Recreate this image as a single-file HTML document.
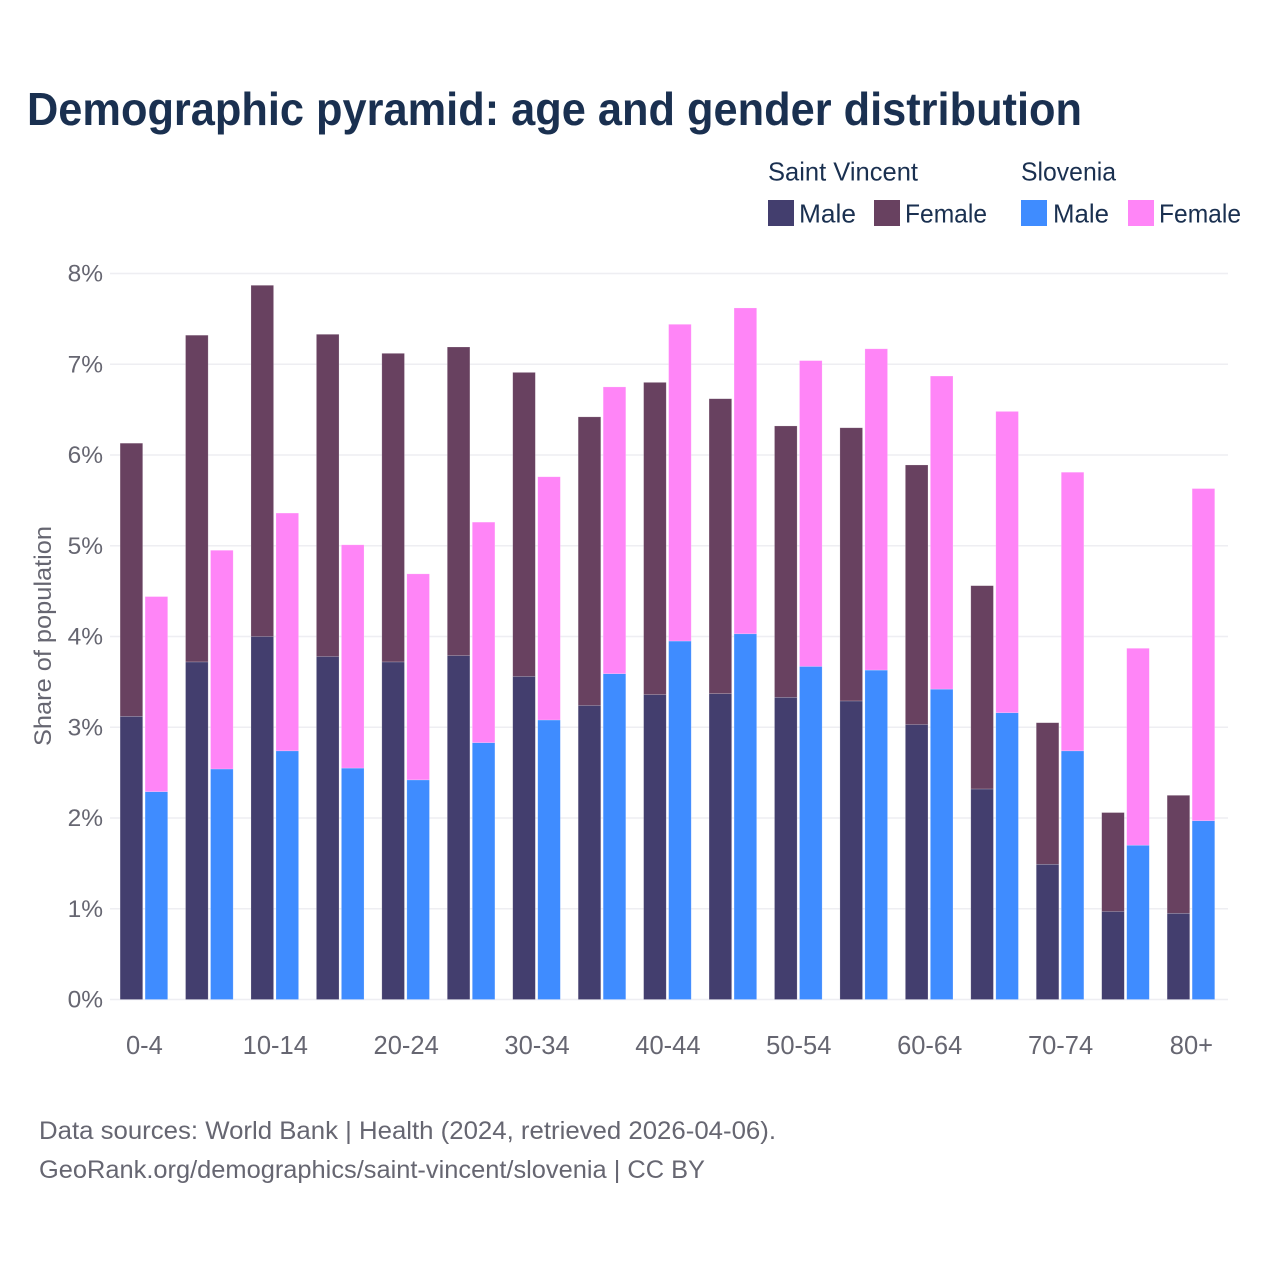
<!DOCTYPE html>
<html lang="en">
<head>
<meta charset="utf-8">
<title>Demographic pyramid</title>
<style>
html,body{margin:0;padding:0;background:#fff;}
svg{display:block;font-family:"Liberation Sans",sans-serif;}
</style>
</head>
<body>
<svg id="chart" width="1280" height="1280" viewBox="0 0 1280 1280" xmlns="http://www.w3.org/2000/svg">
  <rect width="1280" height="1280" fill="#fff"/>
  <text x="27" y="125" font-size="46" font-weight="700" fill="#1a3050" textLength="1055" lengthAdjust="spacingAndGlyphs">Demographic pyramid: age and gender distribution</text>

  <g id="grid"></g>
  <g id="bars"></g>
  <g id="yticks"></g>
  <g id="xticks"></g>

  <text transform="translate(51,636) rotate(-90)" text-anchor="middle" font-size="24" fill="#666671" textLength="220" lengthAdjust="spacingAndGlyphs">Share of population</text>

  <g font-size="26" fill="#1a3050">
    <text x="768" y="180.5" textLength="150" lengthAdjust="spacingAndGlyphs">Saint Vincent</text>
    <text x="1021" y="180.5" textLength="95" lengthAdjust="spacingAndGlyphs">Slovenia</text>
    <rect x="768" y="200" width="26" height="26" fill="#433e6e"/>
    <text x="799" y="222.5" textLength="57" lengthAdjust="spacingAndGlyphs">Male</text>
    <rect x="874" y="200" width="26" height="26" fill="#684160"/>
    <text x="905" y="222.5" textLength="82" lengthAdjust="spacingAndGlyphs">Female</text>
    <rect x="1021" y="200" width="26" height="26" fill="#3f8cff"/>
    <text x="1053" y="222.5" textLength="56" lengthAdjust="spacingAndGlyphs">Male</text>
    <rect x="1128" y="200" width="26" height="26" fill="#ff85f7"/>
    <text x="1159" y="222.5" textLength="82" lengthAdjust="spacingAndGlyphs">Female</text>
  </g>

  <text x="39" y="1139" font-size="25" fill="#666671" textLength="737" lengthAdjust="spacingAndGlyphs">Data sources: World Bank | Health (2024, retrieved 2026-04-06).</text>
  <text x="39" y="1178" font-size="25" fill="#666671" textLength="666" lengthAdjust="spacingAndGlyphs">GeoRank.org/demographics/saint-vincent/slovenia | CC BY</text>
</svg>
<script>
const ageGroups = ["0-4","5-9","10-14","15-19","20-24","25-29","30-34","35-39","40-44","45-49","50-54","55-59","60-64","65-69","70-74","75-79","80+"];
const xTickLabels = ["0-4","10-14","20-24","30-34","40-44","50-54","60-64","70-74","80+"];
const yTickValues = [0,1,2,3,4,5,6,7,8];
const saintVincentMale = [3.12,3.72,4.00,3.78,3.72,3.79,3.56,3.24,3.36,3.37,3.33,3.29,3.03,2.32,1.49,0.97,0.95];
const saintVincentFemale = [3.01,3.60,3.87,3.55,3.40,3.40,3.35,3.18,3.44,3.25,2.99,3.01,2.86,2.24,1.56,1.09,1.30];
const sloveniaMale = [2.29,2.54,2.74,2.55,2.42,2.83,3.08,3.59,3.95,4.03,3.67,3.63,3.42,3.16,2.74,1.70,1.97];
const sloveniaFemale = [2.15,2.41,2.62,2.46,2.27,2.43,2.68,3.16,3.49,3.59,3.37,3.54,3.45,3.32,3.07,2.17,3.66];

const NS = "http://www.w3.org/2000/svg";
const plot = {left: 110, right: 1228, y0: 999.5, yMax: 273.5, vMax: 8, firstCenter: 143.9, step: 65.44, barW: 22.6, barGap: 2.4};
function yScale(v){ return plot.y0 - (v / plot.vMax) * (plot.y0 - plot.yMax); }
function xCenter(i){ return plot.firstCenter + plot.step * i; }

function make(tag, attrs, parent){
  const el = document.createElementNS(NS, tag);
  for (const k in attrs) el.setAttribute(k, attrs[k]);
  parent.appendChild(el);
  return el;
}

const gridG = document.getElementById('grid');
const yG = document.getElementById('yticks');
yTickValues.forEach(function(v){
  const line = make('line', {x1: plot.left, x2: plot.right, y1: yScale(v), y2: yScale(v), stroke: '#eeeef2', 'stroke-width': 1.5}, gridG);
  
  
  const t = make('text', {x: 103, y: yScale(v) + 8, 'text-anchor': 'end', 'font-size': 24.5, fill: '#666671'}, yG);
  
  
  t.textContent = v + '%';
});

const xG = document.getElementById('xticks');
xTickLabels.forEach(function(label){
  const i = ageGroups.indexOf(label);
  const t = make('text', {x: xCenter(i) + 0.5, y: 1054, 'text-anchor': 'middle', 'font-size': 25.5, fill: '#666671'}, xG);
  
  
  t.textContent = label;
});

const barsG = document.getElementById('bars');
function drawStack(i, x, base, top, baseColor, topColor){
  const lower = make('rect', {x: x, y: yScale(base), width: plot.barW, height: yScale(0) - yScale(base), fill: baseColor, stroke: '#fff', 'stroke-opacity': 0.3, 'stroke-width': 0.6}, barsG);
  
  
  const upper = make('rect', {x: x, y: yScale(base + top), width: plot.barW, height: yScale(base) - yScale(base + top), fill: topColor, stroke: '#fff', 'stroke-opacity': 0.3, 'stroke-width': 0.6}, barsG);
  
  
}
ageGroups.forEach(function(g, i){
  const c = xCenter(i);
  drawStack(i, c - plot.barW - plot.barGap / 2, saintVincentMale[i], saintVincentFemale[i], '#433e6e', '#684160');
  drawStack(i, c + plot.barGap / 2, sloveniaMale[i], sloveniaFemale[i], '#3f8cff', '#ff85f7');
});
</script>
</body>
</html>
